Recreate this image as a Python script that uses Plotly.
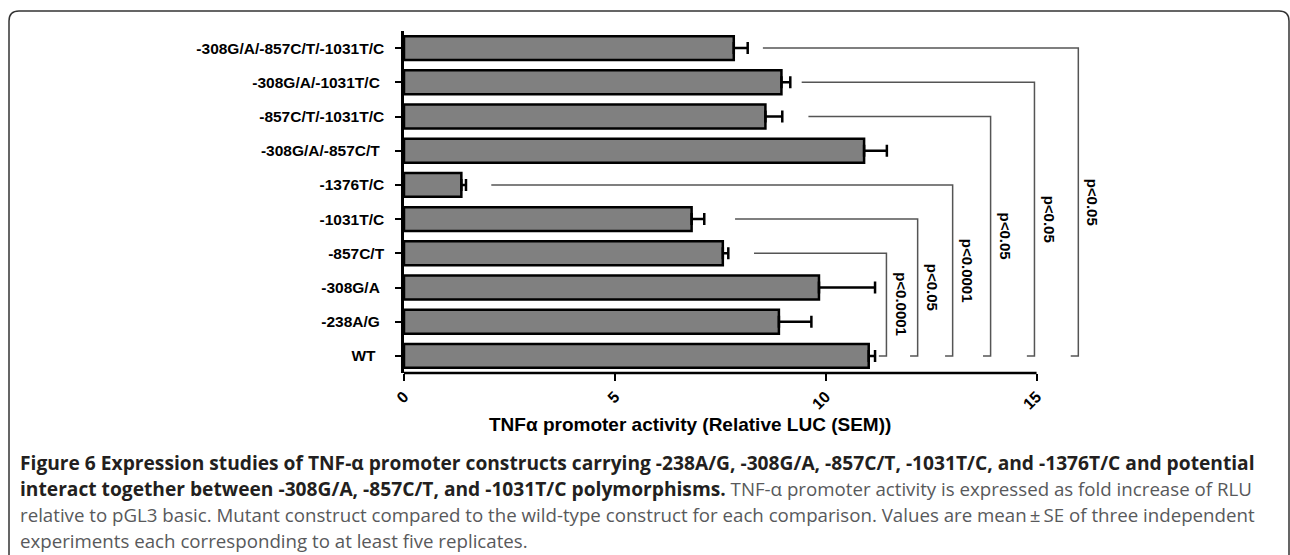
import plotly.graph_objects as go

# ---------------- data ----------------
categories = ["WT", "-238A/G", "-308G/A", "-857C/T", "-1031T/C", "-1376T/C",
              "-308G/A/-857C/T", "-857C/T/-1031T/C", "-308G/A/-1031T/C",
              "-308G/A/-857C/T/-1031T/C"]
tick_labels = ["WT\u00a0\u00a0", "-238A/G\u00a0", "-308G/A\u00a0", "-857C/T", "-1031T/C", "-1376T/C",
               "-308G/A/-857C/T\u00a0", "-857C/T/-1031T/C", "-308G/A/-1031T/C\u00a0",
               "-308G/A/-857C/T/-1031T/C"]
means = [11.02, 8.89, 9.84, 7.56, 6.82, 1.36, 10.91, 8.57, 8.95, 7.82]
sems = [0.15, 0.77, 1.33, 0.13, 0.30, 0.11, 0.54, 0.40, 0.21, 0.33]

# comparisons against WT
compared = ["-857C/T", "-1031T/C", "-1376T/C", "-857C/T/-1031T/C",
            "-308G/A/-1031T/C", "-308G/A/-857C/T/-1031T/C"]
p_values = ["p<0.0001", "p<0.05", "p<0.0001", "p<0.05", "p<0.05", "p<0.05"]
bracket_start = [8.30, 7.85, 2.07, 9.59, 9.43, 8.51]
bracket_end = [11.44, 12.18, 13.01, 13.91, 14.95, 15.99]

x_ticks = [0, 5, 10, 15]
x_title = "TNFα promoter activity (Relative LUC (SEM))"

caption_lines = [
    ("Figure 6 Expression studies of TNF-α promoter constructs carrying -238A/G, -308G/A, -857C/T, -1031T/C, and -1376T/C and potential", ""),
    ("interact together between -308G/A, -857C/T, and -1031T/C polymorphisms.", " TNF-α promoter activity is expressed as fold increase of RLU"),
    ("", "relative to pGL3 basic. Mutant construct compared to the wild-type construct for each comparison. Values are mean\u2009±\u2009SE of three independent"),
    ("", "experiments each corresponding to at least five replicates."),
]

# ---------------- layout geometry (pixels) ----------------
W, H = 1290, 555
L, R, T, B = 404, 1142, 31, 373
X_MAX = 17.5


def pxx(px):
    return (px - L) / (R - L)


def pxy(py):
    return (B - py) / (B - T)


ypos = list(range(len(categories)))

fig = go.Figure()
fig.add_trace(go.Bar(
    y=ypos, x=means, orientation="h", width=0.7,
    marker=dict(color="#808080", line=dict(color="#000000", width=2.5)),
    error_x=dict(type="data", symmetric=False, array=sems,
                 arrayminus=[0] * len(sems), color="#000000",
                 thickness=2.5, width=6),
    showlegend=False, hoverinfo="x+y",
))

shapes = []
annotations = []
wt = categories.index("WT")
for name, p, xs, xe in zip(compared, p_values, bracket_start, bracket_end):
    yi = categories.index(name)
    shapes.append(dict(
        type="path", xref="x", yref="y",
        path=f"M {xs},{yi} L {xe},{yi} L {xe},{wt} L {xe - 0.18},{wt}",
        line=dict(color="#555555", width=1.5),
    ))
    annotations.append(dict(
        x=xe, y=(yi + wt) / 2, xref="x", yref="y", text=p, showarrow=False,
        textangle=90, xanchor="center", yanchor="middle", xshift=15,
        font=dict(family="Liberation Sans, Arial", size=15, color="#000000",
                  weight="bold"),
    ))

# x-axis line from 0 to 15 only
shapes.append(dict(type="line", xref="x", yref="paper", x0=0, x1=x_ticks[-1],
                   y0=0, y1=0, line=dict(color="#000000", width=2.5)))

# figure frame (rounded)
x0f, x1f, y0f, y1f, r = 9, 1289, 11, 640, 10
frame = (f"M {pxx(x0f)},{pxy(y1f)} L {pxx(x0f)},{pxy(y0f + r)} "
         f"Q {pxx(x0f)},{pxy(y0f)} {pxx(x0f + r)},{pxy(y0f)} "
         f"L {pxx(x1f - r)},{pxy(y0f)} Q {pxx(x1f)},{pxy(y0f)} {pxx(x1f)},{pxy(y0f + r)} "
         f"L {pxx(x1f)},{pxy(y1f)}")
shapes.append(dict(type="path", xref="paper", yref="paper", path=frame,
                   line=dict(color="#333333", width=1.5)))

# x-axis title
annotations.append(dict(
    x=pxx(690), y=pxy(424), xref="paper", yref="paper", text=x_title,
    showarrow=False, xanchor="center", yanchor="middle",
    font=dict(family="Liberation Sans, Arial", size=19, color="#000000",
              weight="bold"),
))

# caption
cap_y = [462, 488, 514, 540]
for (bold, reg), py in zip(caption_lines, cap_y):
    txt = ""
    if bold:
        txt += f"<b><span style='color:#231f20;font-size:19.2px'>{bold}</span></b>"
    if reg:
        txt += f"<span style='color:#58595b;font-size:18.7px'>{reg}</span>"
    annotations.append(dict(
        x=pxx(18), y=pxy(py), xref="paper", yref="paper", text=txt,
        showarrow=False, xanchor="left", yanchor="middle",
        font=dict(family="Open Sans, Noto Sans", size=19, color="#231f20"),
    ))

fig.update_layout(
    width=W, height=H,
    margin=dict(l=L, r=W - R, t=T, b=H - B, pad=0),
    paper_bgcolor="white", plot_bgcolor="white",
    bargap=0.3,
    xaxis=dict(range=[0, X_MAX], tickvals=x_ticks, ticktext=[str(v) for v in x_ticks],
               showline=False, showgrid=False, zeroline=False,
               ticks="outside", ticklen=7, tickwidth=2, tickcolor="#000000",
               tickangle=-45,
               tickfont=dict(family="Liberation Sans, Arial", size=16,
                             color="#000000", weight="bold")),
    yaxis=dict(range=[-0.5, len(categories) - 0.5], tickvals=ypos, ticktext=tick_labels,
               showline=True, linecolor="#000000", linewidth=2.5,
               showgrid=False, zeroline=False,
               ticks="outside", ticklen=6, tickwidth=2, tickcolor="#000000",
               ticklabelstandoff=8,
               tickfont=dict(family="Liberation Sans, Arial", size=15.5,
                             color="#000000", weight="bold")),
    shapes=shapes,
    annotations=annotations,
)

fig.write_html("out.html", config={"displayModeBar": False},
               post_script="document.body.style.margin='0';document.body.style.overflow='hidden';")
